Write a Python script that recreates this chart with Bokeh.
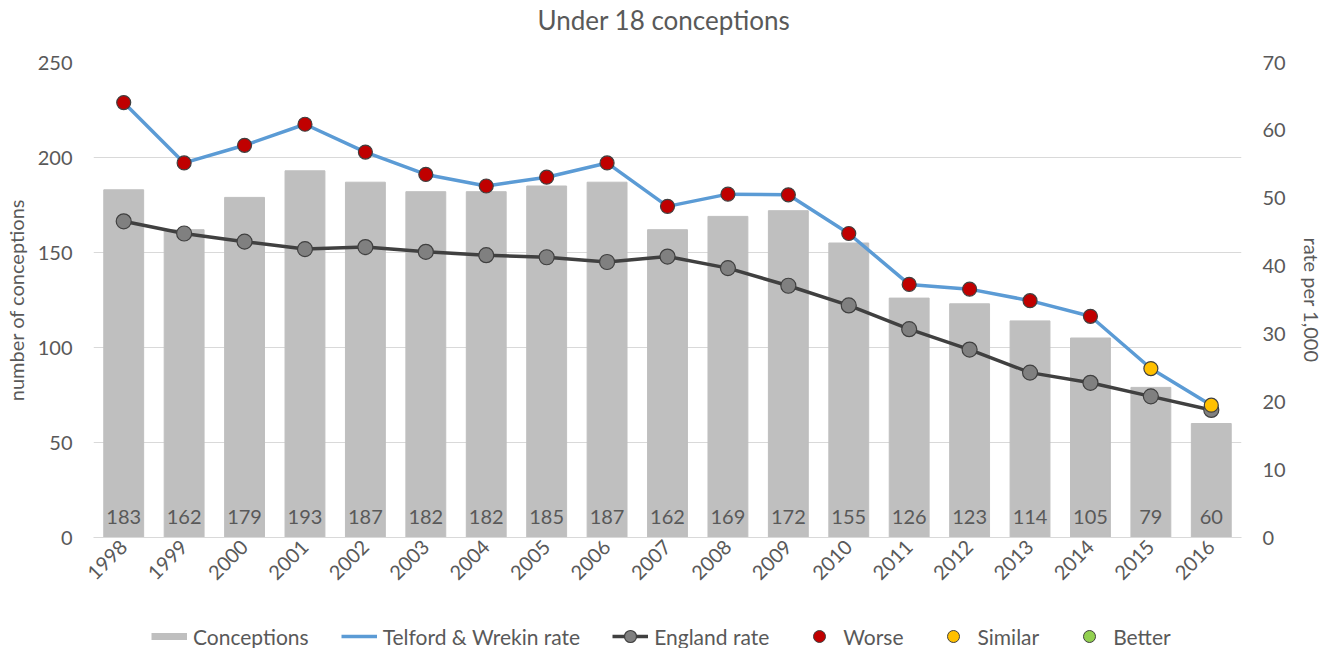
import math
from bokeh.plotting import figure
from bokeh.layouts import column
from bokeh.models import (Range1d, LinearAxis, FactorRange, ColumnDataSource, LabelSet,
                          Legend, LegendItem, FixedTicker)
from bokeh.core.properties import value
from bokeh.embed import file_html
from bokeh.resources import INLINE

# ---- data ----
years = [str(y) for y in range(1998, 2017)]
conceptions = [183, 162, 179, 193, 187, 182, 182, 185, 187, 162, 169, 172, 155, 126, 123, 114, 105, 79, 60]
telford_rate = [64.1, 55.2, 57.8, 60.9, 56.8, 53.5, 51.8, 53.1, 55.2, 48.8, 50.6, 50.5, 44.8, 37.3, 36.6, 34.9, 32.6, 24.9, 19.5]
england_rate = [46.6, 44.8, 43.6, 42.5, 42.8, 42.1, 41.6, 41.3, 40.6, 41.4, 39.7, 37.1, 34.2, 30.7, 27.7, 24.3, 22.8, 20.8, 18.8]
status = ["Worse"] * 17 + ["Similar"] * 2
status_names = ["Worse", "Similar", "Better"]
left_ticks = [0, 50, 100, 150, 200, 250]
right_ticks = [0, 10, 20, 30, 40, 50, 60, 70]

FONT = "Lato"
TXT = "#595959"
W = 1327

BAR_C = "#bfbfbf"
TEL_C = "#5b9bd5"
ENG_C = "#404040"
ENG_M = "#808080"
STATUS_C = {"Worse": "#c00000", "Similar": "#ffc000", "Better": "#92d050"}

src = ColumnDataSource(dict(year=years, conceptions=conceptions, telford=telford_rate,
                            england=england_rate, label=[str(c) for c in conceptions],
                            zero=[0] * len(years)))

def subset(name):
    idx = [i for i, s in enumerate(status) if s == name]
    return ColumnDataSource(dict(year=[years[i] for i in idx], rate=[telford_rate[i] for i in idx]))

def bare(height, x_range, y_range):
    f = figure(width=W, height=height, output_backend="svg", toolbar_location=None,
               x_range=x_range, y_range=y_range,
               x_axis_location=None, y_axis_location=None, min_border=0)
    f.outline_line_color = None
    f.grid.visible = False
    return f

# ---- title strip (its frame is aligned with the main chart's frame) ----
tf = bare(40, Range1d(0, 1), Range1d(0, 1))
tf.title.text = "Under 18 conceptions"
tf.title.align = "left"
tf.title.offset = 444
tf.title.text_font = FONT
tf.title.text_font_size = "26px"
tf.title.text_font_style = "normal"
tf.title.text_color = TXT
tf.title.standoff = 2

# ---- main chart ----
p = figure(x_range=FactorRange(factors=years, range_padding=0), y_range=Range1d(0, 250),
           width=W, height=584, output_backend="svg", toolbar_location=None,
           min_border_left=93, min_border_right=86, min_border_top=22, min_border_bottom=87)
p.outline_line_color = None
p.extra_y_ranges = {"rate": Range1d(0, 70)}

p.vbar(x="year", top="conceptions", width=0.66, source=src, color=BAR_C)

labels = LabelSet(x="year", y="zero", text="label", source=src, y_offset=21,
                  text_align="center", text_baseline="middle", text_font=value(FONT),
                  text_font_size="20px", text_color=TXT)
p.add_layout(labels)

p.line(x="year", y="telford", source=src, y_range_name="rate", line_color=TEL_C, line_width=3.5)
p.line(x="year", y="england", source=src, y_range_name="rate", line_color=ENG_C, line_width=3.5)
p.scatter(x="year", y="england", source=src, y_range_name="rate", size=15,
          fill_color=ENG_M, line_color=ENG_C, line_width=1.2)
for name in status_names:
    p.scatter(x="year", y="rate", source=subset(name), y_range_name="rate", size=14,
              fill_color=STATUS_C[name], line_color=ENG_C, line_width=1.2)

p.xaxis.major_label_orientation = math.pi / 4
p.xaxis.axis_line_color = "#d9d9d9"
p.xaxis.major_tick_line_color = None
p.xaxis.minor_tick_line_color = None
p.xaxis.major_tick_out = 0
p.xaxis.major_tick_in = 0
p.xaxis.major_label_text_font = FONT
p.xaxis.major_label_text_font_size = "20px"
p.xaxis.major_label_text_color = TXT
p.xaxis.major_label_standoff = 6
p.xgrid.grid_line_color = None

ly = p.yaxis[0]
ly.ticker = FixedTicker(ticks=left_ticks)
ly.axis_label = "number of conceptions"
p.ygrid.ticker = FixedTicker(ticks=left_ticks)
p.ygrid.grid_line_color = "#d9d9d9"

ry = LinearAxis(y_range_name="rate", ticker=FixedTicker(ticks=right_ticks), axis_label="rate per 1,000")
p.add_layout(ry, "right")

for ax in (ly, ry):
    ax.axis_line_color = None
    ax.major_tick_line_color = None
    ax.minor_tick_line_color = None
    ax.major_tick_out = 0
    ax.major_tick_in = 0
    ax.major_label_text_font = FONT
    ax.major_label_text_font_size = "20px"
    ax.major_label_text_color = TXT
    ax.major_label_standoff = 21
    ax.axis_label_text_font = FONT
    ax.axis_label_text_font_size = "20px"
    ax.axis_label_text_font_style = "normal"
    ax.axis_label_text_color = TXT
ly.axis_label_standoff = 7
ry.axis_label_standoff = 11

# ---- legend strip (glyph proxies use the real data, lying outside this strip's range) ----
lf = bare(24, FactorRange(factors=years, range_padding=0), Range1d(-20, -10))
g_bar = lf.line(x="year", y="conceptions", source=src, line_color=BAR_C, line_width=7)
g_tel = lf.line(x="year", y="telford", source=src, line_color=TEL_C, line_width=3.5)
g_engl = lf.line(x="year", y="england", source=src, line_color=ENG_C, line_width=3.5)
g_engm = lf.scatter(x="year", y="england", source=src, fill_color=ENG_M, line_color=ENG_C, line_width=1.2)
g_st = {n: lf.scatter(x="year", y="telford", source=src, fill_color=STATUS_C[n], line_color=ENG_C, line_width=1)
        for n in status_names}

legend = Legend(items=[
    LegendItem(label="Conceptions", renderers=[g_bar]),
    LegendItem(label="Telford & Wrekin rate", renderers=[g_tel]),
    LegendItem(label="England rate", renderers=[g_engl, g_engm]),
] + [LegendItem(label=n, renderers=[g_st[n]]) for n in status_names],
    orientation="horizontal", location=(58, -3),
    label_text_font=FONT, label_text_font_size="21px", label_text_color=TXT,
    glyph_width=36, glyph_height=30, spacing=32, label_standoff=6,
    border_line_color=None, background_fill_alpha=0, padding=0, margin=0)
lf.add_layout(legend)

layout = column(tf, p, lf, spacing=0)
open("out.html", "w").write(file_html(layout, INLINE))
